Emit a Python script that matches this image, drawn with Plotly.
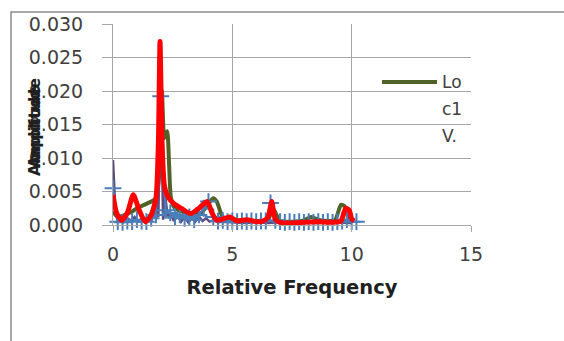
import plotly.graph_objects as go

# ---- data ----
red_x = [0, 0.15, 0.35, 0.6, 0.85, 1.1, 1.35, 1.6, 1.8, 1.9, 1.97, 2.05, 2.15, 2.3, 2.55, 2.9, 3.25,
         3.6, 3.95, 4.15, 4.35, 4.6, 4.9, 5.2, 5.6, 6.0, 6.3, 6.5, 6.65, 6.8, 7.0, 7.4, 8.0, 8.6,
         9.2, 9.55, 9.75, 9.9, 10.0, 10.1]
red_y = [0.0045, 0.0018, 0.0007, 0.0018, 0.0045, 0.0022, 0.0005, 0.0015, 0.004, 0.012, 0.0274,
         0.013, 0.006, 0.0042, 0.0032, 0.0024, 0.0017, 0.0025, 0.0035, 0.0018, 0.0007, 0.0009,
         0.0012, 0.0006, 0.0008, 0.0005, 0.0006, 0.0012, 0.0035, 0.0008, 0.0004, 0.0003, 0.0004,
         0.0005, 0.0004, 0.0006, 0.0025, 0.0022, 0.0009, 0.0006]

green_x = [0, 0.2, 0.5, 0.8, 1.0, 1.3, 1.6, 1.8, 1.95, 2.05, 2.15, 2.27, 2.35, 2.43, 2.6, 2.9,
           3.2, 3.4, 3.7, 4.0, 4.2, 4.35, 4.6, 5.0, 5.5, 6.0, 6.5, 6.7, 7.0, 7.5, 8.0, 8.3, 8.6,
           9.0, 9.3, 9.55, 9.7, 9.9, 10.1]
green_y = [0.002, 0.0012, 0.0015, 0.002, 0.0025, 0.003, 0.0035, 0.004, 0.008, 0.02, 0.013, 0.014,
           0.009, 0.004, 0.0025, 0.002, 0.0015, 0.0016, 0.0018, 0.0032, 0.004, 0.0035, 0.0012,
           0.0008, 0.0007, 0.0006, 0.0008, 0.0025, 0.0006, 0.0005, 0.0007, 0.0012, 0.0008,
           0.0006, 0.0007, 0.003, 0.0028, 0.0012, 0.0006]

purple_x = [0, 0.05, 0.1, 0.2, 0.3, 0.45, 0.6, 0.75, 0.9, 1.05, 1.2, 1.35, 1.5, 1.6, 1.7, 1.8,
            1.9, 2.0, 2.1, 2.2, 2.3, 2.4, 2.55, 2.7, 2.85, 3.0, 3.15, 3.3, 3.45, 3.6, 3.75, 3.9,
            4.05, 4.2, 4.4, 4.6, 5.0, 5.5, 6.0, 6.5, 7.0, 7.5, 8.0, 8.5, 9.0, 9.5, 10.0]
purple_y = [0.0097, 0.006, 0.002, 0.0006, 0.0009, 0.0004, 0.001, 0.0006, 0.0012, 0.0005, 0.0009,
            0.0004, 0.0011, 0.0006, 0.0016, 0.0048, 0.0012, 0.02, 0.0008, 0.004, 0.001, 0.0018,
            0.0006, 0.0014, 0.0005, 0.0012, 0.0004, 0.001, 0.0005, 0.0013, 0.0006, 0.001, 0.0005,
            0.0007, 0.0004, 0.0005, 0.0004, 0.0003, 0.0004, 0.0003, 0.0004, 0.0003, 0.0004,
            0.0003, 0.0004, 0.0003, 0.0003]

blue_x = [0, 0.2, 0.4, 0.6, 0.8, 1.0, 1.2, 1.4, 1.6, 1.8, 2.0, 2.2, 2.4, 2.6, 2.8, 3.0, 3.2, 3.4,
          3.6, 3.8, 4.0, 4.2, 4.4, 4.6, 4.8, 5.0, 5.2, 5.4, 5.6, 5.8, 6.0, 6.2, 6.4, 6.6, 6.8,
          7.0, 7.2, 7.4, 7.6, 7.8, 8.0, 8.2, 8.4, 8.6, 8.8, 9.0, 9.2, 9.4, 9.6, 9.8, 10.0, 10.2]
blue_y = [0.0055, 0.0005, 0.0004, 0.0006, 0.0005, 0.0008, 0.0006, 0.0005, 0.001, 0.0015, 0.0192,
          0.0022, 0.0018, 0.0012, 0.0015, 0.001, 0.0012, 0.0008, 0.0015, 0.0025, 0.0035, 0.0012,
          0.0006, 0.0007, 0.0005, 0.0006, 0.0005, 0.0006, 0.0005, 0.0006, 0.0005, 0.0006,
          0.0006, 0.0033, 0.0007, 0.0005, 0.0004, 0.0005, 0.0004, 0.0005, 0.0004, 0.0005,
          0.0004, 0.0005, 0.0004, 0.0005, 0.0004, 0.0005, 0.0006, 0.0008, 0.0005, 0.0005]

x_ticks = [0, 5, 10, 15]
y_ticks = [0.000, 0.005, 0.010, 0.015, 0.020, 0.025, 0.030]
legend_lines = ["Lo", "c1", "V."]

# ---- layout geometry (target pixels; body margin removed below) ----
W, H = 564, 341
L, R, T, B = 113, 93, 24, 116
pw, ph = W - L - R, H - T - B


def px(xp):
    return (xp - L) / pw


def py(yp):
    return (H - B - yp) / ph


GREEN = "#4F6228"
PURPLE = "#604A7B"
BLUE = "#4A7EBB"
RED = "#FF0000"
GRID = "#A6A6A6"
TXT = "#404040"

fig = go.Figure()
fig.add_trace(go.Scatter(x=green_x, y=green_y, mode="lines", name="Loc1 V.",
                         line=dict(color=GREEN, width=4, shape="spline", smoothing=0.6)))
fig.add_trace(go.Scatter(x=purple_x, y=purple_y, mode="lines", name="Loc2",
                         line=dict(color=PURPLE, width=2.5)))
fig.add_trace(go.Scatter(x=blue_x, y=blue_y, mode="lines+markers", name="Loc3",
                         line=dict(color=BLUE, width=2),
                         marker=dict(symbol="cross-thin", size=12,
                                     line=dict(color=BLUE, width=2)),
                         cliponaxis=False))
fig.add_trace(go.Scatter(x=red_x, y=red_y, mode="lines", name="Loc4",
                         line=dict(color=RED, width=5, shape="spline", smoothing=0.6)))

fig.update_layout(
    width=W, height=H,
    margin=dict(l=L, r=R, t=T, b=B, pad=0, autoexpand=False),
    paper_bgcolor="white", plot_bgcolor="white",
    showlegend=False,
    font=dict(family="DejaVu Sans", color=TXT),
)
fig.update_xaxes(
    range=[0, 15], tickvals=x_ticks, ticktext=[str(v) for v in x_ticks],
    showgrid=True, gridcolor=GRID, gridwidth=1,
    showline=True, linecolor=GRID, linewidth=1,
    ticks="outside", ticklen=6, tickcolor=GRID, ticklabelstandoff=6,
    tickfont=dict(size=19, color=TXT, family="DejaVu Sans"),
    zeroline=False, automargin=False,
    title=dict(text="<b>Relative Frequency</b>", standoff=16,
               font=dict(size=19.5, color="#202020", family="DejaVu Sans")),
)
fig.update_yaxes(
    range=[0, 0.030], tickvals=y_ticks, ticktext=[f"{v:.3f}" for v in y_ticks],
    showgrid=True, gridcolor=GRID, gridwidth=1,
    showline=True, linecolor=GRID, linewidth=1,
    ticks="outside", ticklen=10, tickcolor=GRID, ticklabelstandoff=15,
    tickfont=dict(size=19, color=TXT, family="DejaVu Sans"),
    zeroline=False, automargin=False,
)

# y-axis title (appears doubled in the reference)
for dy in (-4, 4):
    fig.add_annotation(text="<b>Amplitude</b>", xref="paper", yref="paper",
                       x=px(35), y=py(127 + dy), textangle=-90, showarrow=False,
                       font=dict(size=15.5, color="#202020", family="DejaVu Sans"),
                       xanchor="center", yanchor="middle")

# legend (drawn as in reference: wrapped text)
fig.add_shape(type="line", xref="paper", yref="paper",
              x0=px(382), x1=px(437), y0=py(82), y1=py(82),
              line=dict(color=GREEN, width=4))
for i, t in enumerate(legend_lines):
    fig.add_annotation(text=t, xref="paper", yref="paper",
                       x=px(440), y=py(82 + 27 * i), showarrow=False,
                       xanchor="left", yanchor="middle",
                       font=dict(size=17, color=TXT, family="DejaVu Sans"))

# outer chart frame
fig.add_shape(type="rect", xref="paper", yref="paper",
              x0=px(11), x1=px(620), y0=py(400), y1=py(12),
              line=dict(color="#8C8C8C", width=1.5), fillcolor="rgba(0,0,0,0)")

fig.write_html(
    "out.html",
    config={"displayModeBar": False},
    post_script="document.body.style.margin='0';document.body.style.overflow='hidden';",
)
